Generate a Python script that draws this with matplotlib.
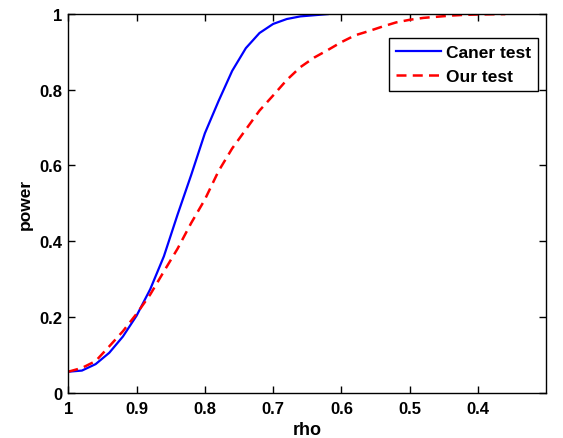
import numpy as np
import matplotlib
matplotlib.use("Agg")
import matplotlib.pyplot as plt

plt.rcParams['font.family'] = ['Liberation Sans', 'DejaVu Sans']

# values
rho_caner = [1.00, 0.98, 0.96, 0.94, 0.92, 0.90, 0.88, 0.86, 0.84, 0.82,
             0.80, 0.78, 0.76, 0.74, 0.72, 0.70, 0.68, 0.66, 0.64, 0.62]
power_caner = [0.055, 0.058, 0.075, 0.105, 0.148, 0.203, 0.273, 0.36, 0.47, 0.575,
               0.685, 0.77, 0.85, 0.91, 0.95, 0.974, 0.987, 0.994, 0.997, 1.0]

rho_ours = [1.00, 0.98, 0.96, 0.94, 0.92, 0.90, 0.88, 0.86, 0.84, 0.82,
            0.80, 0.78, 0.76, 0.74, 0.72, 0.70, 0.68, 0.66, 0.64, 0.62,
            0.60, 0.58, 0.56, 0.54, 0.52, 0.50, 0.48, 0.46, 0.44, 0.42,
            0.40, 0.36]
power_ours = [0.055, 0.065, 0.083, 0.122, 0.162, 0.208, 0.259, 0.32, 0.38, 0.448,
              0.51, 0.585, 0.645, 0.695, 0.745, 0.785, 0.826, 0.86, 0.885, 0.905,
              0.926, 0.944, 0.955, 0.967, 0.978, 0.985, 0.99, 0.993, 0.996, 0.998,
              0.999, 1.0]

xticks = [1, 0.9, 0.8, 0.7, 0.6, 0.5, 0.4]
xticklabels = ['1', '0.9', '0.8', '0.7', '0.6', '0.5', '0.4']
yticks = [0, 0.2, 0.4, 0.6, 0.8, 1]
yticklabels = ['0', '0.2', '0.4', '0.6', '0.8', '1']

fig = plt.figure(figsize=(5.63, 4.39), dpi=100)
ax = fig.add_axes([0.1213, 0.1036, 0.849, 0.862])

ax.plot(rho_caner, power_caner, '-', color='#0000ff', lw=1.6, label='Caner test')
ax.plot(rho_ours, power_ours, '--', color='#ff0000', lw=1.8, dashes=(4, 2.5), label='Our test')

ax.set_xlim(1, 0.3)
ax.set_ylim(0, 1)
ax.set_xticks(xticks)
ax.set_xticklabels(xticklabels, fontsize=12, fontweight='bold')
ax.set_yticks(yticks)
ax.set_yticklabels(yticklabels, fontsize=12, fontweight='bold')
ax.tick_params(direction='in', top=True, right=True, length=5, width=1)
ax.tick_params(axis='x', pad=6)
ax.tick_params(axis='y', pad=4)
for s in ax.spines.values():
    s.set_linewidth(1)

ax.set_xlabel('rho', fontsize=13, fontweight='bold', labelpad=4)
ax.set_ylabel('power', fontsize=12.5, fontweight='bold', labelpad=5)

leg = ax.legend(loc='upper right', bbox_to_anchor=(0.983, 0.937), borderaxespad=0,
                fancybox=False, edgecolor='black', framealpha=1,
                prop={'size': 12.5, 'weight': 'bold'},
                handlelength=2.6, handletextpad=0.3, borderpad=0.4, labelspacing=0.5)
leg.get_frame().set_linewidth(1)

fig.savefig('out.png', dpi=100)
